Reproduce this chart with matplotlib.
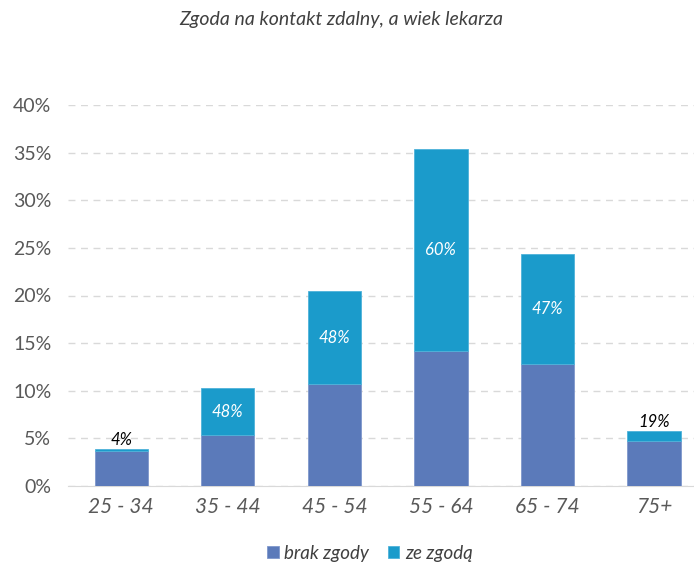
import matplotlib.pyplot as plt
from matplotlib.ticker import PercentFormatter

plt.rcParams['font.family'] = ['Lato', 'DejaVu Sans']

age_groups = ["25 - 34", "35 - 44", "45 - 54", "55 - 64", "65 - 74", "75+"]
brak_zgody = [3.72, 5.32, 10.68, 14.2, 12.85, 4.69]
ze_zgoda = [0.16, 4.94, 9.8, 21.2, 11.5, 1.08]
consent_pct = ["4%", "48%", "48%", "60%", "47%", "19%"]

c_brak = "#5b7aba"
c_ze = "#1b9bcb"

fig = plt.figure(figsize=(6.94, 5.64), dpi=100)
ax = fig.add_axes([68 / 694, 78 / 564, 626 / 694, 381 / 564])

x = range(len(age_groups))
ax.bar(x, brak_zgody, width=0.5, color=c_brak, edgecolor="#7f97cc",
       linewidth=0.6, label="brak zgody", zorder=3)
ax.bar(x, ze_zgoda, width=0.5, bottom=brak_zgody, color=c_ze,
       edgecolor="#4fb2da", linewidth=0.6, label="ze zgodą", zorder=3)

for i, lab in enumerate(consent_pct):
    total = brak_zgody[i] + ze_zgoda[i]
    if ze_zgoda[i] > 3:
        ax.text(i, brak_zgody[i] + ze_zgoda[i] / 2, lab, ha="center", va="center",
                color="white", fontsize=12, style="italic", zorder=4)
    else:
        ax.text(i, total + 0.15, lab, ha="center", va="bottom",
                color="black", fontsize=12, style="italic", zorder=4)

ax.set_xlim(-0.5, 5.375)
ax.set_ylim(0, 40)
ax.set_yticks(range(0, 41, 5))
ax.yaxis.set_major_formatter(PercentFormatter(decimals=0))
ax.set_xticks(list(x))
ax.set_xticklabels(age_groups, style="italic", fontsize=15, color="#595959")
ax.tick_params(axis="y", labelsize=14, labelcolor="#595959", length=0, pad=12)
ax.tick_params(axis="x", length=0, pad=8)
ax.grid(axis="y", linestyle=(0, (5, 4)), color="#d9d9d9", linewidth=1, zorder=0)
for side in ["top", "right", "left"]:
    ax.spines[side].set_visible(False)
ax.spines["bottom"].set_color("#d9d9d9")

fig.text(341 / 694, 1 - 20 / 564, "Zgoda na kontakt zdalny, a wiek lekarza",
         ha="center", va="center", style="italic", fontsize=14, color="#404040")

ax.legend(loc="center", bbox_to_anchor=((370 - 68) / 626, -(553 - 486) / 381), ncol=2,
          frameon=False, prop={"style": "italic", "size": 13.5},
          handlelength=0.6, handleheight=0.6, handletextpad=0.3, columnspacing=1.0,
          labelcolor="#404040")

fig.savefig("out.png", dpi=100)
